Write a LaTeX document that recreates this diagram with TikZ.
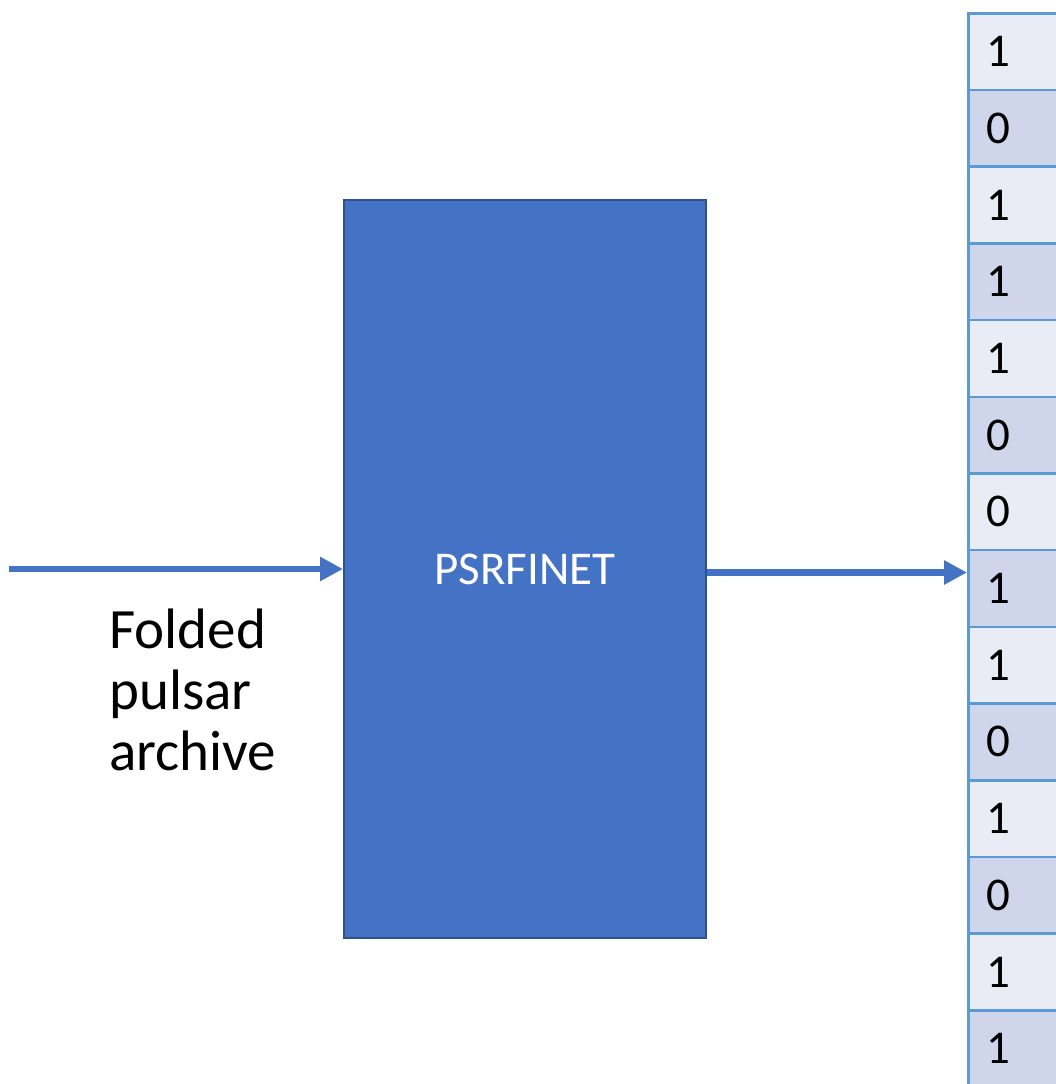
\documentclass[tikz,border=0pt]{standalone}
\usepackage{fontspec}
\setmainfont{Carlito}
\usetikzlibrary{arrows.meta}
\definecolor{netblue}{HTML}{4472C4}
\definecolor{netedge}{HTML}{2F528F}
\definecolor{celledge}{HTML}{5B9BD5}
\definecolor{celllight}{HTML}{E9EBF5}
\definecolor{celldark}{HTML}{CFD5EA}
\begin{document}
\begin{tikzpicture}[x=1pt,y=-1pt,
  netbox/.style={draw=netedge, line width=2pt, fill=netblue, text=white,
    minimum width=362pt, minimum height=738pt, anchor=north west, inner sep=0pt,
    font=\fontsize{47}{54}\selectfont},
  cellbox/.style={draw=celledge, line width=2.5pt, minimum width=140pt,
    minimum height=76.7pt, anchor=north west, inner sep=0pt},
  digit/.style={font=\fontsize{47}{56}\selectfont, inner sep=0pt},
  flow/.style={draw=netblue, line width=6.5pt,
    -{Triangle[length=23pt,width=23pt]}},
  caption/.style={font=\fontsize{57}{61}\selectfont, align=left, inner sep=0pt}
]
\useasboundingbox (0,0) rectangle (1056,1084);
\clip (0,0) rectangle (1056,1084);

\node[netbox] (net) at (343,199) {\raisebox{-2pt}{PSRFINET}};

\foreach \v [count=\i] in {1,0,1,1,1,0,0,1,1,0,1,0,1,1} {
  \ifodd\i
    \node[cellbox, fill=celllight] (c\i) at (967,{12+(\i-1)*76.7}) {};
  \else
    \node[cellbox, fill=celldark] (c\i) at (967,{12+(\i-1)*76.7}) {};
  \fi
  \node[digit] (d\i) at ([xshift=31pt]c\i.west) {\v};
}

\coordinate (src) at (9,569);
\draw[flow] (src) -- (src -| net.west);
\draw[flow] (net.east |- 0,572.5) -- (c8.west |- 0,572.5);

\node[caption, anchor=north west] (cap) at (109,609) {Folded\\pulsar\\archive};
\end{tikzpicture}
\end{document}
